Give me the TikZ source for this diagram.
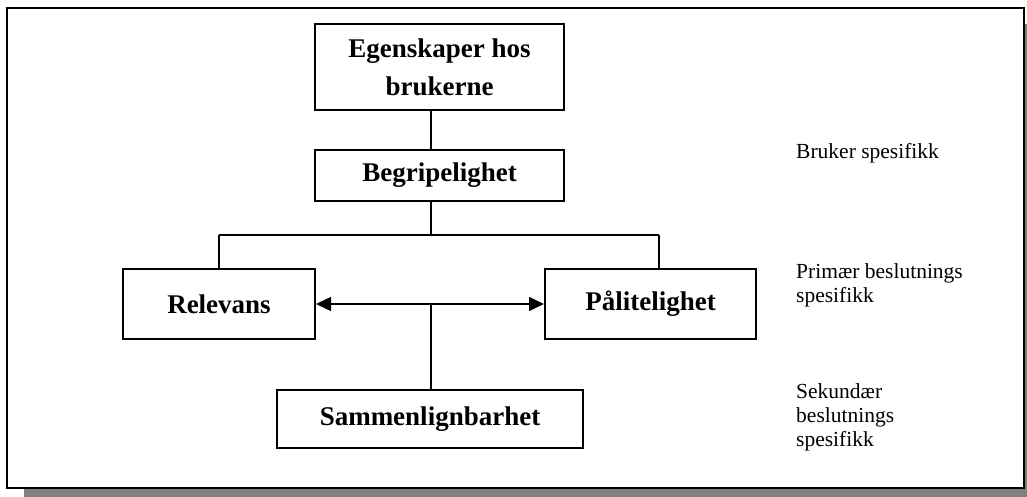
\documentclass[tikz,border=0pt]{standalone}
\usepackage{fontspec}
\setmainfont{Liberation Serif}
\usetikzlibrary{arrows.meta}
\begin{document}
\begin{tikzpicture}[x=1pt,y=-1pt,
  box/.style={draw=black,line width=2pt,fill=white,inner sep=0pt,font=\fontsize{27}{38}\selectfont\bfseries,align=center},
  conn/.style={draw=black,line width=1.4pt},
  side/.style={anchor=west,align=left,inner sep=0pt,font=\fontsize{21.5}{24}\selectfont}]
\useasboundingbox (0,0) rectangle (1027,497);
\fill[gray] (24,24) rectangle (1027,497);
\draw[line width=2pt,fill=white] (7,8) rectangle (1024,488);
\node[box,minimum width=249pt,minimum height=86pt] (egen) at (439.5,67) {Egenskaper hos\\brukerne};
\node[box,minimum width=249pt,minimum height=51pt] (beg) at (439.5,175.5) {Begripelighet};
\node[box,minimum width=192pt,minimum height=70pt] (rel) at (219,304) {Relevans};
\node[box,minimum width=211pt,minimum height=70pt] (pal) at (650.5,304) {Pålitelighet};
\node[box,minimum width=306pt,minimum height=58pt] (sam) at (430,419) {Sammenlignbarhet};
\coordinate (cx) at (431,0);
\coordinate (busL) at (219,235);
\coordinate (busR) at (659,235);
\coordinate (mid) at (431,304);
\draw[conn] (egen.south -| cx) -- (beg.north -| cx);
\draw[conn] (beg.south -| cx) -- (busL -| cx);
\draw[conn] (busL) -- (busR);
\draw[conn] (busL) -- (rel.north -| busL);
\draw[conn] (busR) -- (pal.north -| busR);
\draw[conn,{Triangle[length=15pt,width=14pt]}-{Triangle[length=15pt,width=14pt]}] (rel.east) -- (pal.west);
\draw[conn] (mid) -- (sam.north -| mid);
\node[side] (l1) at (796,153) {Bruker spesifikk};
\node[side] (l2) at (796,285) {Primær beslutnings\\spesifikk};
\node[side] (l3) at (796,417) {Sekundær\\beslutnings\\spesifikk};
\end{tikzpicture}
\end{document}
